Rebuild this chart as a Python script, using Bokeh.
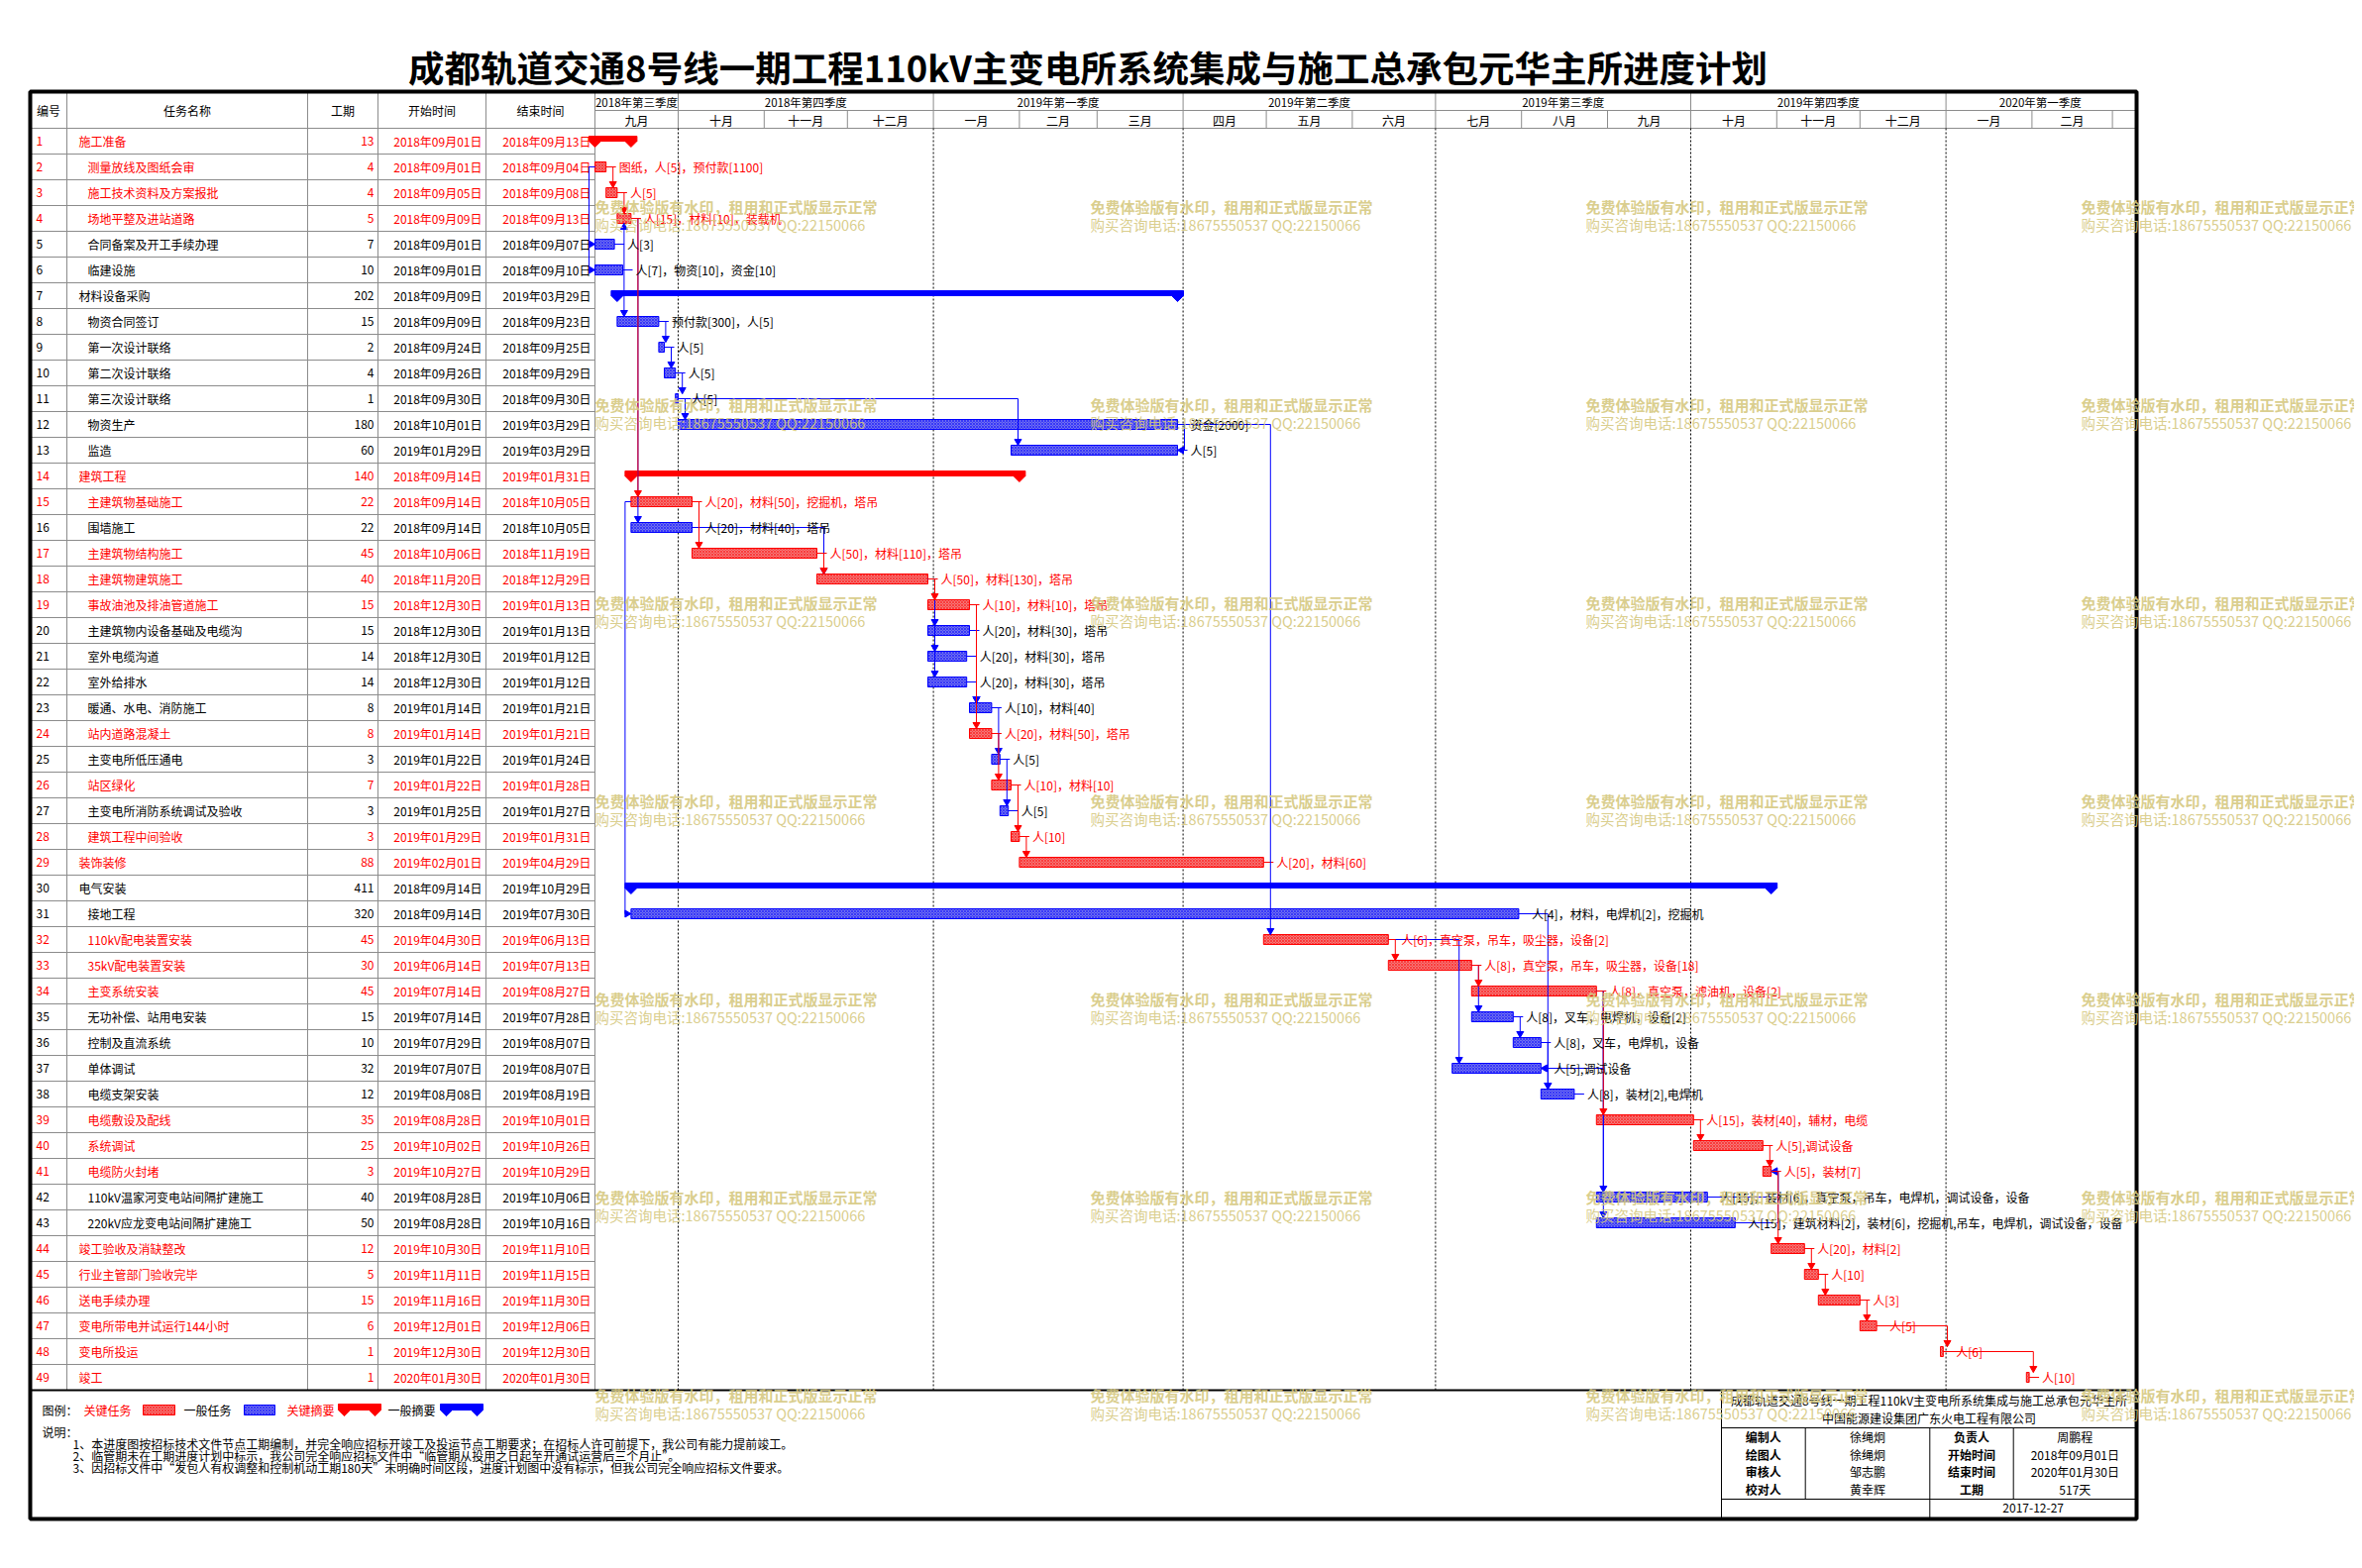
from datetime import date
from bokeh.plotting import figure
from bokeh.models import Range1d
from bokeh.embed import file_html
from bokeh.resources import INLINE
from bokeh.core.properties import value

# ---------------------------------------------------------------- data
title = "成都轨道交通8号线一期工程110kV主变电所系统集成与施工总承包元华主所进度计划"

task_ids = list(range(1, 50))
task_names = [
    "施工准备", "测量放线及图纸会审", "施工技术资料及方案报批", "场地平整及进站道路", "合同备案及开工手续办理", "临建设施",
    "材料设备采购", "物资合同签订", "第一次设计联络", "第二次设计联络", "第三次设计联络", "物资生产", "监造",
    "建筑工程", "主建筑物基础施工", "围墙施工", "主建筑物结构施工", "主建筑物建筑施工", "事故油池及排油管道施工",
    "主建筑物内设备基础及电缆沟", "室外电缆沟道", "室外给排水", "暖通、水电、消防施工", "站内道路混凝土",
    "主变电所低压通电", "站区绿化", "主变电所消防系统调试及验收", "建筑工程中间验收",
    "装饰装修", "电气安装", "接地工程", "110kV配电装置安装", "35kV配电装置安装", "主变系统安装",
    "无功补偿、站用电安装", "控制及直流系统", "单体调试", "电缆支架安装", "电缆敷设及配线", "系统调试",
    "电缆防火封堵", "110kV温家河变电站间隔扩建施工", "220kV应龙变电站间隔扩建施工",
    "竣工验收及消缺整改", "行业主管部门验收完毕", "送电手续办理", "变电所带电并试运行144小时", "变电所投运", "竣工",
]
durations = [13, 4, 4, 5, 7, 10, 202, 15, 2, 4, 1, 180, 60, 140, 22, 22, 45, 40, 15, 15, 14, 14, 8, 8, 3, 7, 3, 3,
             88, 411, 320, 45, 30, 45, 15, 10, 32, 12, 35, 25, 3, 40, 50, 12, 5, 15, 6, 1, 1]
start_dates = [
    "2018-09-01", "2018-09-01", "2018-09-05", "2018-09-09", "2018-09-01", "2018-09-01",
    "2018-09-09", "2018-09-09", "2018-09-24", "2018-09-26", "2018-09-30", "2018-10-01", "2019-01-29",
    "2018-09-14", "2018-09-14", "2018-09-14", "2018-10-06", "2018-11-20", "2018-12-30", "2018-12-30",
    "2018-12-30", "2018-12-30", "2019-01-14", "2019-01-14", "2019-01-22", "2019-01-22", "2019-01-25",
    "2019-01-29", "2019-02-01", "2018-09-14", "2018-09-14", "2019-04-30", "2019-06-14", "2019-07-14",
    "2019-07-14", "2019-07-29", "2019-07-07", "2019-08-08", "2019-08-28", "2019-10-02", "2019-10-27",
    "2019-08-28", "2019-08-28", "2019-10-30", "2019-11-11", "2019-11-16", "2019-12-01", "2019-12-30",
    "2020-01-30",
]
end_dates = [
    "2018-09-13", "2018-09-04", "2018-09-08", "2018-09-13", "2018-09-07", "2018-09-10",
    "2019-03-29", "2018-09-23", "2018-09-25", "2018-09-29", "2018-09-30", "2019-03-29", "2019-03-29",
    "2019-01-31", "2018-10-05", "2018-10-05", "2018-11-19", "2018-12-29", "2019-01-13", "2019-01-13",
    "2019-01-12", "2019-01-12", "2019-01-21", "2019-01-21", "2019-01-24", "2019-01-28", "2019-01-27",
    "2019-01-31", "2019-04-29", "2019-10-29", "2019-07-30", "2019-06-13", "2019-07-13", "2019-08-27",
    "2019-07-28", "2019-08-07", "2019-08-07", "2019-08-19", "2019-10-01", "2019-10-26", "2019-10-29",
    "2019-10-06", "2019-10-16", "2019-11-10", "2019-11-15", "2019-11-30", "2019-12-06", "2019-12-30",
    "2020-01-30",
]
critical_ids = [1, 2, 3, 4, 14, 15, 17, 18, 19, 24, 26, 28, 29, 32, 33, 34, 39, 40, 41, 44, 45, 46, 47, 48, 49]
top_level_ids = [1, 7, 14, 29, 30, 44, 45, 46, 47, 48, 49]
summary_ids = [1, 7, 14, 30]
resource_labels = [
    "", "图纸，人[5]，预付款[1100]", "人[5]", "人[15]，材料[10]，装载机", "人[3]", "人[7]，物资[10]，资金[10]",
    "", "预付款[300]，人[5]", "人[5]", "人[5]", "人[5]", "资金[2000]", "人[5]",
    "", "人[20]，材料[50]，挖掘机，塔吊", "人[20]，材料[40]，塔吊", "人[50]，材料[110]，塔吊",
    "人[50]，材料[130]，塔吊", "人[10]，材料[10]，塔吊", "人[20]，材料[30]，塔吊", "人[20]，材料[30]，塔吊",
    "人[20]，材料[30]，塔吊", "人[10]，材料[40]", "人[20]，材料[50]，塔吊", "人[5]", "人[10]，材料[10]", "人[5]",
    "人[10]", "人[20]，材料[60]", "", "人[4]，材料，电焊机[2]，挖掘机", "人[6]，真空泵，吊车，吸尘器，设备[2]",
    "人[8]，真空泵，吊车，吸尘器，设备[18]", "人[8]，真空泵，滤油机，设备[2]", "人[8]，叉车，电焊机，设备[2]",
    "人[8]，叉车，电焊机，设备", "人[5],调试设备", "人[8]，装材[2],电焊机", "人[15]，装材[40]，辅材，电缆",
    "人[5],调试设备", "人[5]，装材[7]", "人[15]，装材[6]，真空泵，吊车，电焊机，调试设备，设备",
    "人[15]，建筑材料[2]，装材[6]，挖掘机,吊车，电焊机，调试设备，设备",
    "人[20]，材料[2]", "人[10]", "人[3]", "人[5]", "人[6]", "人[10]",
]
fs_links = [(2, 3), (3, 4), (5, 4), (5, 8), (4, 15), (4, 16), (8, 9), (9, 10), (10, 11), (11, 12), (11, 13),
            (12, 32), (15, 17), (16, 18), (17, 18), (18, 19), (18, 20), (18, 21), (18, 22), (19, 24), (20, 23),
            (21, 23), (22, 23), (23, 25), (24, 26), (25, 27), (26, 28), (28, 29), (31, 38), (32, 33), (32, 37),
            (33, 34), (33, 35), (35, 36), (36, 38), (34, 39), (34, 42), (34, 43), (39, 40), (40, 41), (41, 44),
            (44, 45), (45, 46), (46, 47), (47, 48), (48, 49)]
ss_links = [(2, 5), (2, 6), (15, 31)]
ff_links = [(12, 13), (34, 37), (42, 41), (43, 41)]

table_headers = ["编号", "任务名称", "工期", "开始时间", "结束时间"]
quarter_labels = ["2018年第三季度", "2018年第四季度", "2019年第一季度", "2019年第二季度",
                  "2019年第三季度", "2019年第四季度", "2020年第一季度"]
quarter_starts = ["2018-09-01", "2018-10-01", "2019-01-01", "2019-04-01", "2019-07-01", "2019-10-01", "2020-01-01"]
month_labels = ["九月", "十月", "十一月", "十二月", "一月", "二月", "三月", "四月", "五月", "六月",
                "七月", "八月", "九月", "十月", "十一月", "十二月", "一月", "二月"]
month_starts = ["2018-09-01", "2018-10-01", "2018-11-01", "2018-12-01", "2019-01-01", "2019-02-01",
                "2019-03-01", "2019-04-01", "2019-05-01", "2019-06-01", "2019-07-01", "2019-08-01",
                "2019-09-01", "2019-10-01", "2019-11-01", "2019-12-01", "2020-01-01", "2020-02-01", "2020-03-01"]
legend_title = "图例："
legend_labels = ["关键任务", "一般任务", "关键摘要", "一般摘要"]
notes_title = "说明："
notes = [
    "1、本进度图按招标技术文件节点工期编制，并完全响应招标开竣工及投运节点工期要求；在招标人许可前提下，我公司有能力提前竣工。",
    "2、临管期未在工期进度计划中标示，我公司完全响应招标文件中“临管期从投用之日起至开通试运营后三个月止”。",
    "3、因招标文件中“发包人有权调整和控制机动工期180天”未明确时间区段，进度计划图中没有标示，但我公司完全响应招标文件要求。",
]
info_title = "成都轨道交通8号线一期工程110kV主变电所系统集成与施工总承包元华主所"
info_company = "中国能源建设集团广东火电工程有限公司"
info_keys_left = ["编制人", "绘图人", "审核人", "校对人"]
info_vals_left = ["徐绳炯", "徐绳炯", "邹志鹏", "黄幸辉"]
info_keys_right = ["负责人", "开始时间", "结束时间", "工期"]
info_vals_right = ["周鹏程", "2018年09月01日", "2020年01月30日", "517天"]
info_date = "2017-12-27"
watermark_line1 = "免费体验版有水印，租用和正式版显示正常"
watermark_line2 = "购买咨询电话:18675550537 QQ:22150066"

# ---------------------------------------------------------------- layout / style
W, H = 2376, 1575
FONT = "Noto Sans CJK SC"
RED, BLUE, BLACK = "#FF0000", "#0000FF", "#000000"
RED_FILL, BLUE_FILL = "#F47878", "#7070F0"
GRID = "#8C8C8C"
WM_COLOR = "#D5C87E"
T0 = date(2018, 9, 1)
X0, DX = 600.0, 2.8
ROW_TOP, ROW_H = 129.0, 26.0
N = len(task_ids)
TABLE_BOTTOM = ROW_TOP + N * ROW_H
FL, FR, FT, FB = 30.0, 2156.0, 92.0, 1533.0
COLS = [FL, 67.0, 310.0, 381.0, 490.0, X0]
HEAD_MID = 111.0
BAR_HALF = 5.0


def to_date(s):
    y, m, d = (int(v) for v in s.split("-"))
    return date(y, m, d)


def xpos(s):
    return X0 + (to_date(s) - T0).days * DX


def yrow(i):
    return ROW_TOP + (i - 0.5) * ROW_H


def cn_date(s):
    y, m, d = s.split("-")
    return f"{y}年{m}月{d}日"


crit = set(critical_ids)
tops = set(top_level_ids)
summ = set(summary_ids)
bar_l = {i: xpos(s) for i, s in zip(task_ids, start_dates)}
bar_r = {i: xpos(e) + DX for i, e in zip(task_ids, end_dates)}
yc = {i: yrow(i) for i in task_ids}

p = figure(width=W, height=H, x_range=Range1d(0, W), y_range=Range1d(H, 0),
           output_backend="svg", toolbar_location=None, min_border=0,
           x_axis_location=None, y_axis_location=None)
p.grid.grid_line_color = None
p.outline_line_color = None
p.background_fill_color = "white"
p.border_fill_color = "white"


def text(xs, ys, texts, colors=BLACK, size="12px", align="left", style="normal", alpha=1.0):
    p.text(x=xs, y=ys, text=texts, text_color=colors, text_font=value(FONT), text_font_size=size,
           text_align=align, text_baseline="middle", text_font_style=style, text_alpha=alpha)


# ---------------------------------------------------------------- title
text([(413 + 1782) / 2], [67], [title], size="36.5px", align="center", style="bold")

# ---------------------------------------------------------------- table grid
hx0, hy0, hx1, hy1 = [], [], [], []
for k in range(1, N):
    yy = ROW_TOP + k * ROW_H
    hx0.append(FL); hx1.append(X0); hy0.append(yy); hy1.append(yy)
hx0 += [FL, X0]; hx1 += [FR, FR]; hy0 += [ROW_TOP, HEAD_MID]; hy1 += [ROW_TOP, HEAD_MID]
for cx in COLS[1:]:
    hx0.append(cx); hx1.append(cx); hy0.append(FT); hy1.append(TABLE_BOTTOM)
q_x = [xpos(s) for s in quarter_starts]
m_x = [xpos(s) for s in month_starts]
for qx in q_x[1:]:
    hx0.append(qx); hx1.append(qx); hy0.append(FT); hy1.append(HEAD_MID)
for mx in m_x[1:]:
    hx0.append(mx); hx1.append(mx); hy0.append(HEAD_MID); hy1.append(ROW_TOP)
p.segment(x0=hx0, y0=hy0, x1=hx1, y1=hy1, line_color=GRID, line_width=1)

# dotted quarter lines in the chart body
p.segment(x0=q_x[1:], y0=[ROW_TOP] * (len(q_x) - 1), x1=q_x[1:], y1=[TABLE_BOTTOM] * (len(q_x) - 1),
          line_color=BLACK, line_width=1, line_dash="2 2")

# header texts
head_cx = [(COLS[k] + COLS[k + 1]) / 2 for k in range(5)]
text(head_cx, [111] * 5, table_headers, align="center")
q_edges = q_x + [FR - 2]
text([(q_edges[k] + q_edges[k + 1]) / 2 for k in range(len(quarter_labels))], [102] * len(quarter_labels),
     quarter_labels, size="11.5px", align="center")
text([(m_x[k] + m_x[k + 1]) / 2 for k in range(len(month_labels))], [120.5] * len(month_labels),
     month_labels, align="center")

# table rows
row_col = [RED if i in crit else BLACK for i in task_ids]
ys = [yc[i] for i in task_ids]
text([36] * N, ys, [str(i) for i in task_ids], row_col)
text([79 if i in tops else 88 for i in task_ids], ys, task_names, row_col)
text([377] * N, ys, [str(d) for d in durations], row_col, align="right")
text([486] * N, ys, [cn_date(s) for s in start_dates], row_col, align="right")
text([596] * N, ys, [cn_date(s) for s in end_dates], row_col, align="right")

# ---------------------------------------------------------------- bars
tasks = [i for i in task_ids if i not in summ]
bl = [bar_l[i] for i in tasks]
br = [bar_r[i] for i in tasks]
bt = [yc[i] - BAR_HALF for i in tasks]
bb = [yc[i] + BAR_HALF for i in tasks]
bcol = [RED if i in crit else BLUE for i in tasks]
bfill = [RED_FILL if i in crit else BLUE_FILL for i in tasks]
p.quad(left=bl, right=br, top=bt, bottom=bb, fill_color=bfill, line_color=bcol, line_width=1,
       hatch_pattern="x", hatch_color=bcol, hatch_scale=3, hatch_weight=1, hatch_alpha=0.5)
p.segment(x0=br, y0=[yc[i] for i in tasks], x1=[x + 10 for x in br], y1=[yc[i] for i in tasks],
          line_color=bcol, line_width=1)

# summary bars
s_col = [RED if i in crit else BLUE for i in summary_ids]
p.quad(left=[bar_l[i] - 6 for i in summary_ids], right=[bar_r[i] + 6 for i in summary_ids],
       top=[yc[i] - 5 for i in summary_ids], bottom=[yc[i] for i in summary_ids],
       fill_color=s_col, line_color=s_col)
tri_x, tri_y, tri_c = [], [], []
for i, c in zip(summary_ids, s_col):
    for xx in (bar_l[i], bar_r[i]):
        tri_x.append([xx - 6, xx + 6, xx]); tri_y.append([yc[i], yc[i], yc[i] + 6]); tri_c.append(c)
p.patches(xs=tri_x, ys=tri_y, fill_color=tri_c, line_color=tri_c)

# ---------------------------------------------------------------- links
lk = {"red": ([], [], [], []), "blue": ([], [], [], [])}


def head(x, y, direction):
    if direction == "down":
        return [x - 3.5, x + 3.5, x], [y - 6, y - 6, y]
    if direction == "up":
        return [x - 3.5, x + 3.5, x], [y + 6, y + 6, y]
    if direction == "right":
        return [x - 6, x - 6, x], [y - 3.5, y + 3.5, y]
    return [x + 6, x + 6, x], [y - 3.5, y + 3.5, y]


def add(a, b, px, py, hx, hy, d):
    key = "red" if (a in crit and b in crit) else "blue"
    L = lk[key]
    L[0].append(px); L[1].append(py)
    ax, ay = head(hx, hy, d)
    L[2].append(ax); L[3].append(ay)


for a, b in fs_links:
    xa, ya = bar_r[a], yc[a]
    xb, yb = bar_l[b] + 7, yc[b]
    if yb > ya:
        tip, d = yb - BAR_HALF, "down"
    else:
        tip, d = yb + BAR_HALF, "up"
    add(a, b, [xa, xb, xb], [ya, ya, tip], xb, tip, d)
for a, b in ss_links:
    xa, ya, yb = bar_l[a], yc[a], yc[b]
    xv = xa - 6
    add(a, b, [xa, xv, xv, bar_l[b]], [ya, ya, yb, yb], bar_l[b], yb, "right")
for a, b in ff_links:
    ya, yb = yc[a], yc[b]
    xv = max(bar_r[a], bar_r[b]) + 7
    add(a, b, [bar_r[a], xv, xv, bar_r[b]], [ya, ya, yb, yb], bar_r[b], yb, "left")
for key, c in (("blue", BLUE), ("red", RED)):
    L = lk[key]
    p.multi_line(xs=L[0], ys=L[1], line_color=c, line_width=1)
    p.patches(xs=L[2], ys=L[3], fill_color=c, line_color=c)

# resource labels
lab_ids = [i for i in tasks if resource_labels[i - 1]]
text([bar_r[i] + 13 for i in lab_ids], [yc[i] for i in lab_ids], [resource_labels[i - 1] for i in lab_ids],
     [RED if i in crit else BLACK for i in lab_ids])

# ---------------------------------------------------------------- frame & bottom lines
p.segment(x0=[FL], y0=[TABLE_BOTTOM], x1=[FR], y1=[TABLE_BOTTOM], line_color=BLACK, line_width=2)
p.quad(left=[FL], right=[FR], top=[FT], bottom=[FB], fill_color=None, line_color=BLACK, line_width=4)

# ---------------------------------------------------------------- legend
LY = 1423
text([42, 84, 185, 289, 391], [LY] * 5, [legend_title] + legend_labels, [BLACK, RED, BLACK, RED, BLACK])
p.quad(left=[144, 246], right=[176, 277], top=[LY - 5] * 2, bottom=[LY + 5] * 2,
       fill_color=[RED_FILL, BLUE_FILL], line_color=[RED, BLUE], hatch_pattern="x",
       hatch_color=[RED, BLUE], hatch_scale=3, hatch_weight=1, hatch_alpha=0.5)
p.quad(left=[341, 444], right=[384, 487], top=[LY - 6] * 2, bottom=[LY] * 2, fill_color=[RED, BLUE],
       line_color=[RED, BLUE])
lt_x, lt_y, lt_c = [], [], []
for (l, r), c in (((341, 384), RED), ((444, 487), BLUE)):
    for xx in (l + 6, r - 6):
        lt_x.append([xx - 6, xx + 6, xx]); lt_y.append([LY, LY, LY + 6]); lt_c.append(c)
p.patches(xs=lt_x, ys=lt_y, fill_color=lt_c, line_color=lt_c)

# notes
text([42], [1445], [notes_title])
text([73] * 3, [1457, 1469, 1481], notes)

# ---------------------------------------------------------------- info box
BX = [1737.0, 1821.7, 1947.3, 2031.7, FR]
p.segment(x0=[BX[0], BX[0], BX[0], BX[1], BX[2], BX[3], BX[2]],
          y0=[TABLE_BOTTOM, 1441, 1513, 1441, 1441, 1441, 1513],
          x1=[BX[0], FR, FR, BX[1], BX[2], BX[3], BX[2]],
          y1=[FB, 1441, 1513, 1513, 1513, 1513, FB], line_color=BLACK, line_width=1)
mid_box = (BX[0] + FR) / 2
text([mid_box, mid_box], [1413, 1431], [info_title, info_company], align="center")
iy = [1450, 1467.5, 1485, 1503]
text([(BX[0] + BX[1]) / 2] * 4, iy, info_keys_left, align="center", style="bold")
text([(BX[1] + BX[2]) / 2] * 4, iy, info_vals_left, align="center")
text([(BX[2] + BX[3]) / 2] * 4, iy, info_keys_right, align="center", style="bold")
text([(BX[3] + BX[4]) / 2] * 4, iy, info_vals_right, align="center")
text([(BX[2] + BX[4]) / 2], [1522], [info_date], align="center")

# ---------------------------------------------------------------- watermark
w1x, w1y = [], []
for cx in (600, 1100, 1600, 2100):
    for ry in (208, 408, 608, 808, 1008, 1208, 1408):
        w1x.append(cx); w1y.append(ry)
text(w1x, w1y, [watermark_line1] * len(w1x), WM_COLOR, size="15px", style="bold", alpha=0.9)
text(w1x, [y + 18 for y in w1y], [watermark_line2] * len(w1x), WM_COLOR, size="14.5px", alpha=0.9)

open("out.html", "w").write(file_html(p, INLINE))
